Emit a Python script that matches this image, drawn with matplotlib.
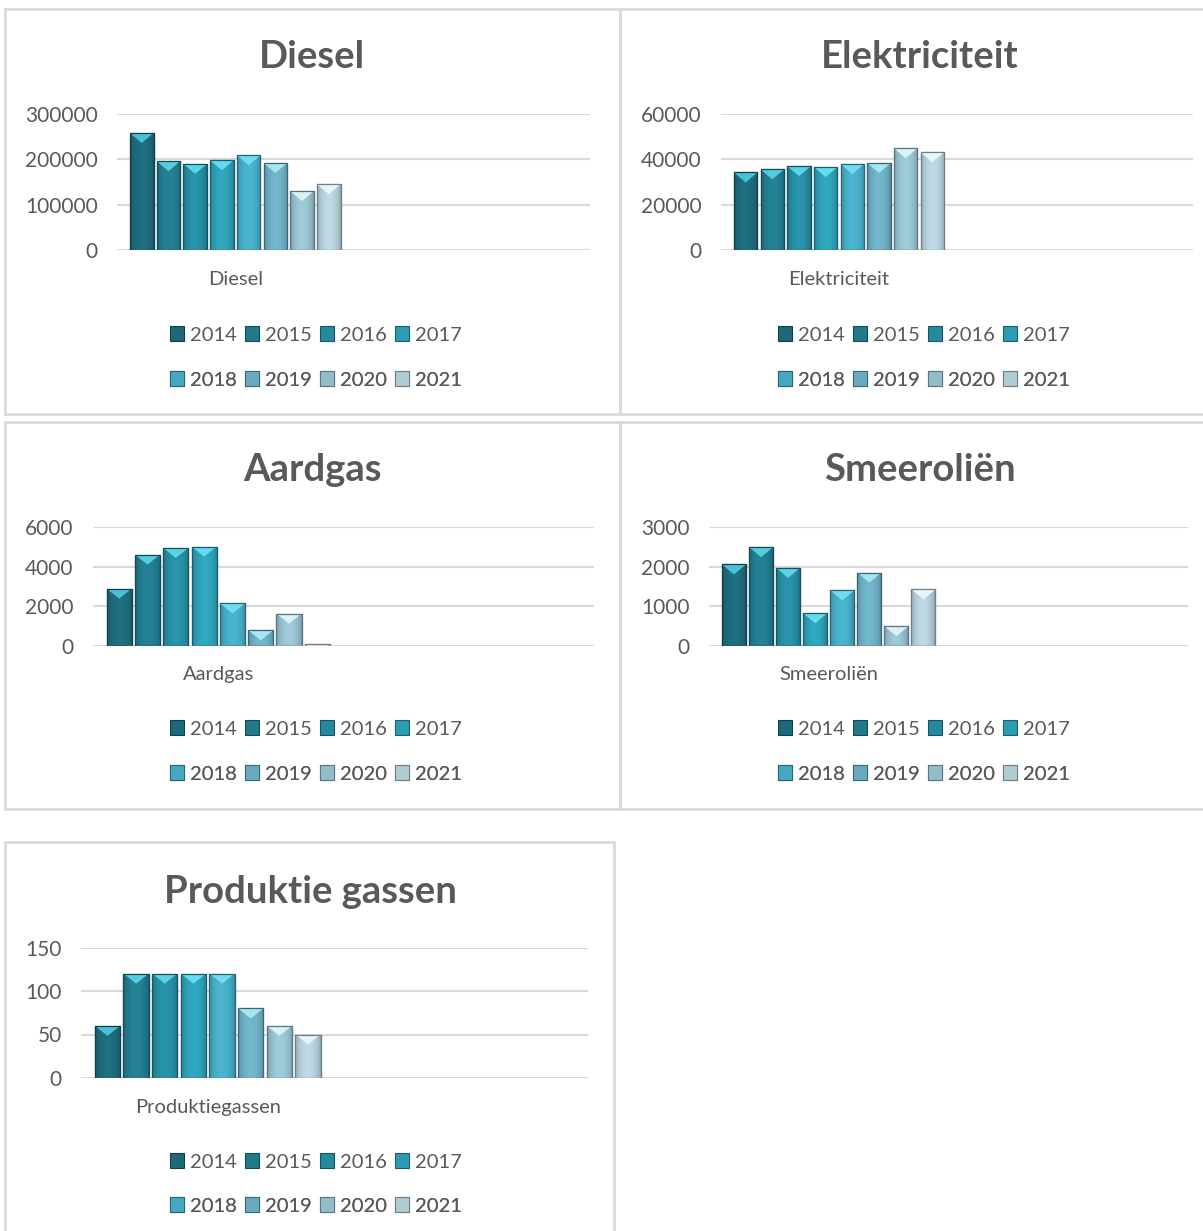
import numpy as np
import matplotlib.pyplot as plt
from matplotlib.patches import Rectangle, Polygon
from matplotlib.colors import to_rgb

plt.rcParams['font.family'] = ['Lato', 'DejaVu Sans']

W, H = 1203, 1231

years = ['2014', '2015', '2016', '2017', '2018', '2019', '2020', '2021']
diesel = [258000, 196000, 190000, 198000, 209000, 192000, 130000, 145000]
elektriciteit = [34200, 35600, 37000, 36600, 37900, 38400, 44900, 43100]
aardgas = [2890, 4620, 4960, 5030, 2140, 775, 1620, 80]
smeerolien = [2060, 2500, 1975, 820, 1400, 1855, 490, 1425]
produktiegassen = [60, 120, 120, 120, 120, 80, 60, 50]

bar_colors = ['#1d6879', '#22798c', '#268a9f', '#2c9cb2',
              '#45a8c1', '#6aaabf', '#93bccb', '#b0cad5']
top_colors = ['#4cc0d5', '#55cde0', '#5ad4e6', '#63dcef',
              '#70dcef', '#a6e6f0', '#d8f2f6', '#e9f5f8']
edge_colors = ['#0f3f4a', '#134a56', '#175361', '#1b5d6b',
               '#2a6576', '#3f6675', '#5a7480', '#6d808a']

TXT = '#595959'
GRID = '#d9d9d9'

# box (x0, y0, x1, y1), plot area (left, right, zero, top), title centre, legend centre x / rows y
panels = [
    dict(title='Diesel', cat='Diesel', vals=diesel, ymax=300000, step=100000,
         box=(5, 9, 620, 414), area=(117, 590, 250, 114), tc=(312, 57),
         lx=316, ly=(335, 380)),
    dict(title='Elektriciteit', cat='Elektriciteit', vals=elektriciteit, ymax=60000, step=20000,
         box=(620, 9, 1218, 414), area=(721, 1193, 250, 114), tc=(920, 57),
         lx=924, ly=(335, 380)),
    dict(title='Aardgas', cat='Aardgas', vals=aardgas, ymax=6000, step=2000,
         box=(5, 422, 620, 809), area=(93, 594, 645.5, 527.5), tc=(312, 470),
         lx=316, ly=(729, 774)),
    dict(title='Smeeroliën', cat='Smeeroliën', vals=smeerolien, ymax=3000, step=1000,
         box=(620, 422, 1218, 809), area=(709, 1188, 645.5, 527.5), tc=(920, 470),
         lx=924, ly=(729, 774)),
    dict(title='Produktie gassen', cat='Produktiegassen', vals=produktiegassen, ymax=150, step=50,
         box=(5, 842, 614, 1250), area=(81, 588, 1078, 947.5), tc=(310, 892),
         lx=316, ly=(1162, 1206)),
]


def fx(x):
    return x / W


def fy(y):
    return 1 - y / H


fig = plt.figure(figsize=(W / 100, H / 100), dpi=100)

pitch = 0.113
bw = 0.1
prof = np.linspace(0, 1, 48)
shade = 0.8 + 0.28 * np.sin(np.pi * prof) ** 0.6

for p in panels:
    x0, y0, x1, y1 = p['box']
    fig.add_artist(Rectangle((fx(x0), fy(y1)), (x1 - x0) / W, (y1 - y0) / H,
                             transform=fig.transFigure, fill=False,
                             edgecolor=GRID, linewidth=2))

    left, right, zero, top = p['area']
    ax = fig.add_axes([fx(left), fy(zero), (right - left) / W, (zero - top) / H])
    offs = (np.arange(len(years)) - 3.5) * pitch
    bars = ax.bar(offs, p['vals'], width=bw, color=bar_colors,
                  edgecolor=edge_colors, linewidth=0.8, zorder=3)

    per_px = p['ymax'] / (zero - top)
    for b, c, tc in zip(bars.patches, bar_colors, top_colors):
        bx, h = b.get_x(), b.get_height()
        base = np.array(to_rgb(c))
        img = np.clip(base[None, None, :] * shade[None, :, None], 0, 1)
        im = ax.imshow(img, extent=(bx, bx + bw, 0, h), aspect='auto',
                       interpolation='bilinear', zorder=3.2)
        im.set_clip_path(b)
        tri = Polygon([(bx, h), (bx + bw, h), (bx + bw / 2, h - 10 * per_px)],
                      closed=True, facecolor=tc, edgecolor='none', zorder=3.4)
        ax.add_patch(tri)
        tri.set_clip_path(b)
        edge = Rectangle((bx, 0), bw, h, fill=False, edgecolor=b.get_edgecolor(),
                         linewidth=0.9, zorder=3.6)
        ax.add_patch(edge)

    ax.set_xlim(-0.5, 1.5)
    ax.set_ylim(0, p['ymax'])
    ticks = np.arange(0, p['ymax'] + p['step'], p['step'])
    ax.set_yticks(ticks, [str(int(t)) for t in ticks])
    ax.set_xticks([0], [p['cat']])
    ax.tick_params(axis='y', length=0, pad=14, labelsize=15, labelcolor=TXT)
    ax.tick_params(axis='x', length=0, pad=15, labelsize=14.5, labelcolor=TXT)
    ax.yaxis.grid(True, color=GRID, linewidth=1.5, zorder=0)
    ax.set_axisbelow(True)
    for s in ax.spines.values():
        s.set_visible(False)

    fig.text(fx(p['tc'][0]), fy(p['tc'][1]), p['title'], ha='center', va='center',
             fontsize=27.5, fontweight='bold', color=TXT)

    handles = list(bars.patches)
    for k, ly in enumerate(p['ly']):
        leg = ax.legend(handles[4 * k:4 * k + 4], years[4 * k:4 * k + 4], loc='center',
                        bbox_to_anchor=(fx(p['lx']), fy(ly)), bbox_transform=fig.transFigure,
                        ncol=4, frameon=False, fontsize=14.5, handlelength=0.7,
                        handleheight=0.7, handletextpad=0.3, columnspacing=0.4,
                        borderpad=0, labelcolor=TXT)
        ax.add_artist(leg)

plt.savefig('out.png', dpi=100)
